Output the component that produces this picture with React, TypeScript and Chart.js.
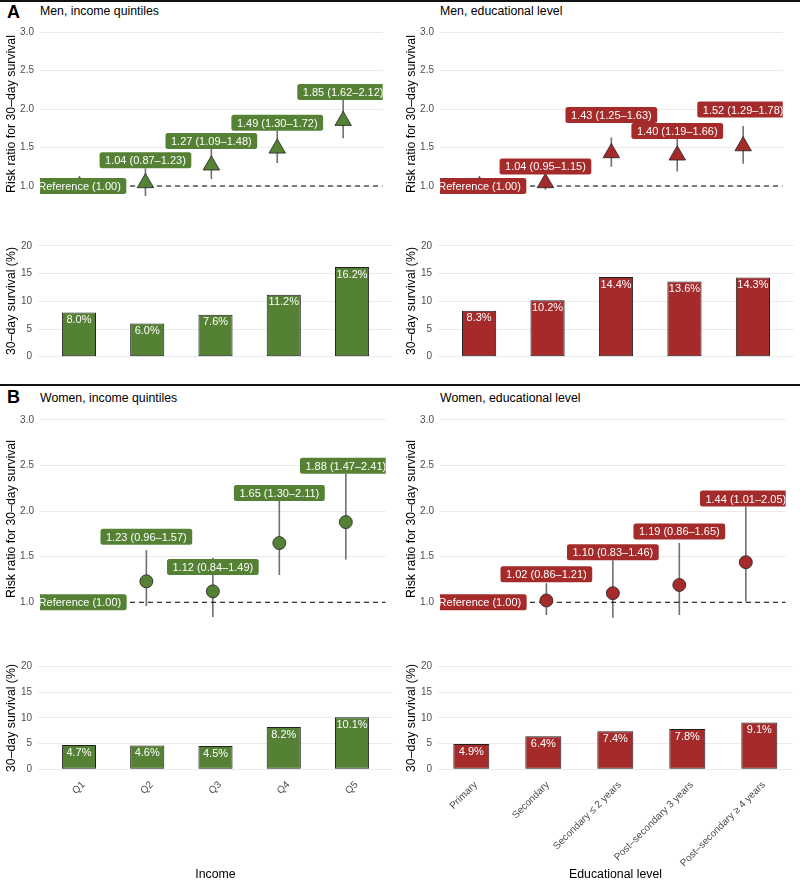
import React, { useEffect, useRef } from "react";
import { Chart, registerables } from "chart.js";

Chart.register(...registerables);

const FONT = "'Liberation Sans', Arial, Helvetica, sans-serif";
const GREEN = "#558134";
const RED = "#a52a2a";

// ---------- data ----------
const incomeCategories = ["Q1", "Q2", "Q3", "Q4", "Q5"];
const educationCategories = [
  "Primary",
  "Secondary",
  "Secondary ≤ 2 years",
  "Post–secondary 3 years",
  "Post–secondary ≥ 4 years",
];

const menIncomeRR = [1.0, 1.04, 1.27, 1.49, 1.85];
const menIncomeLow = [1.0, 0.87, 1.09, 1.3, 1.62];
const menIncomeHigh = [1.0, 1.23, 1.48, 1.72, 2.12];
const menIncomeLabelAt = [1.0, 1.23, 1.48, 1.72, 2.12];
const menIncomeSurvival = [8.0, 6.0, 7.6, 11.2, 16.2];

const menEduRR = [1.0, 1.04, 1.43, 1.4, 1.52];
const menEduLow = [1.0, 0.95, 1.25, 1.19, 1.29];
const menEduHigh = [1.0, 1.15, 1.63, 1.66, 1.78];
const menEduLabelAt = [1.0, 1.15, 1.82, 1.61, 1.89];
const menEduSurvival = [8.3, 10.2, 14.4, 13.6, 14.3];

const womenIncomeRR = [1.0, 1.23, 1.12, 1.65, 1.88];
const womenIncomeLow = [1.0, 0.96, 0.84, 1.3, 1.47];
const womenIncomeHigh = [1.0, 1.57, 1.49, 2.11, 2.41];
const womenIncomeLabelAt = [1.0, 1.63, 1.3, 2.11, 2.41];
const womenIncomeSurvival = [4.7, 4.6, 4.5, 8.2, 10.1];

const womenEduRR = [1.0, 1.02, 1.1, 1.19, 1.44];
const womenEduLow = [1.0, 0.86, 0.83, 0.86, 1.01];
const womenEduHigh = [1.0, 1.21, 1.46, 1.65, 2.05];
const womenEduLabelAt = [1.0, 1.22, 1.46, 1.69, 2.05];
const womenEduSurvival = [4.9, 6.4, 7.4, 7.8, 9.1];

const referenceLabel = "Reference (1.00)";
const rrAxisTitle = "Risk ratio for 30–day survival";
const barAxisTitle = "30–day survival (%)";

// ---------- layout ----------
type Geo = {
  left: number; top: number; width: number; height: number;
  axisW: number; padTop: number; padBottom: number; xAxisH?: number;
  xMin: number; xMax: number; yMin: number; yMax: number;
};

const rrA_L: Geo = { left: 0, top: 12, width: 393, height: 204, axisW: 40, padTop: 12, padBottom: 12, xMin: 0.4, xMax: 5.6, yMin: 0.7658, yMax: 3.108 };
const rrA_R: Geo = { ...rrA_L, left: 400 };
const barA_L: Geo = { left: 0, top: 228, width: 393, height: 146, axisW: 38, padTop: 12, padBottom: 12, xMin: 0.4, xMax: 5.6, yMin: -0.958, yMax: 21.084 };
const barA_R: Geo = { ...barA_L, left: 400, width: 394 };
const rrB_L: Geo = { left: 0, top: 398, width: 393, height: 242, axisW: 40, padTop: 12, padBottom: 12, xMin: 0.4, xMax: 5.6, yMin: 0.718, yMax: 3.1097 };
const rrB_R: Geo = { ...rrB_L, left: 400 };
const barB_L: Geo = { left: 0, top: 649, width: 393, height: 233, axisW: 38, padTop: 12, padBottom: 0, xAxisH: 107, xMin: 0.4, xMax: 5.6, yMin: -1.127, yMax: 21.03 };
const barB_R: Geo = { ...barB_L, left: 400, xMin: 0.5375, xMax: 5.468 };

const f2 = (v: number) => v.toFixed(2);

function yScale(g: Geo, step: number, title: string, fmt: (v: number) => string) {
  return {
    type: "linear",
    position: "left",
    min: g.yMin,
    max: g.yMax,
    grid: { color: "#ebebeb", lineWidth: 1, drawTicks: false },
    border: { display: false },
    ticks: {
      stepSize: step,
      includeBounds: false,
      padding: 6,
      color: "#4d4d4d",
      font: { family: FONT, size: 10 },
      callback: (v: any) => fmt(Number(v)),
    },
    title: {
      display: true,
      text: title,
      color: "#000",
      font: { family: FONT, size: 12.3 },
      padding: { top: 4, bottom: 4 },
    },
    afterFit: (ax: any) => {
      ax.width = g.axisW;
    },
  };
}

function xScale(g: Geo, cats: string[] | null, title: string | null) {
  const show = !!cats;
  return {
    type: "linear",
    position: "bottom",
    offset: false,
    min: g.xMin,
    max: g.xMax,
    display: show,
    grid: { display: false, drawTicks: false, offset: false },
    border: { display: false },
    ticks: {
      stepSize: 1,
      includeBounds: false,
      autoSkip: false,
      minRotation: 45,
      maxRotation: 45,
      padding: 4,
      labelOffset: 4.5,
      color: "#4d4d4d",
      font: { family: FONT, size: 10 },
      callback: (v: any) => {
        const i = Math.round(Number(v)) - 1;
        return cats && Math.abs(Number(v) - (i + 1)) < 1e-6 ? cats[i] : "";
      },
    },
    title: {
      display: !!title,
      text: title || "",
      color: "#000",
      font: { family: FONT, size: 12.3 },
      padding: { top: 0, bottom: 0 },
    },
    afterFit: (ax: any) => {
      if (g.xAxisH !== undefined) ax.height = g.xAxisH;
    },
  };
}

type RRSpec = {
  geo: Geo; rr: number[]; low: number[]; high: number[]; labelAt: number[];
  color: string; pointStyle: "triangle" | "circle"; radius: number;
};

function makeRR(s: RRSpec) {
  const extras = {
    id: "rrExtras",
    beforeDatasetsDraw(chart: any) {
      const { ctx, chartArea: a, scales } = chart;
      const x = scales.x, y = scales.y;
      ctx.save();
      ctx.beginPath();
      ctx.rect(a.left, a.top, a.right - a.left, a.bottom - a.top);
      ctx.clip();
      ctx.strokeStyle = "#707070";
      ctx.lineWidth = 1.6;
      s.rr.forEach((_, i) => {
        if (s.low[i] === s.high[i]) return;
        const px = x.getPixelForValue(i + 1);
        ctx.beginPath();
        ctx.moveTo(px, y.getPixelForValue(s.low[i]));
        ctx.lineTo(px, y.getPixelForValue(s.high[i]));
        ctx.stroke();
      });
      ctx.restore();
    },
    afterDatasetsDraw(chart: any) {
      const { ctx, chartArea: a, scales } = chart;
      const x = scales.x, y = scales.y;
      ctx.save();
      ctx.beginPath();
      ctx.rect(a.left, a.top, a.right - a.left, a.bottom - a.top);
      ctx.clip();
      ctx.font = `11px ${FONT}`;
      ctx.textAlign = "center";
      ctx.textBaseline = "alphabetic";
      const h = 16;
      s.rr.forEach((v, i) => {
        const text = i === 0 ? referenceLabel : `${f2(v)} (${f2(s.low[i])}–${f2(s.high[i])})`;
        const w = ctx.measureText(text).width + 11;
        const cx = x.getPixelForValue(i + 1);
        const cy = i === 0 ? y.getPixelForValue(s.labelAt[i]) : y.getPixelForValue(s.labelAt[i]) - h / 2;
        ctx.fillStyle = s.color;
        ctx.beginPath();
        (ctx as any).roundRect(cx - w / 2, cy - h / 2, w, h, 2.5);
        ctx.fill();
        ctx.fillStyle = "#ffffff";
        ctx.fillText(text, cx, cy + 4);
      });
      ctx.restore();
    },
  };
  const g = s.geo;
  return {
    type: "line",
    data: {
      datasets: [
        {
          data: s.rr.map((v, i) => ({ x: i + 1, y: v })),
          showLine: false,
          pointStyle: s.pointStyle,
          pointRadius: s.radius,
          pointBackgroundColor: s.color,
          pointBorderColor: "#222222",
          pointBorderWidth: 0.8,
          order: 0,
        },
        {
          data: [{ x: g.xMin, y: 1 }, { x: g.xMax, y: 1 }],
          borderColor: "#000000",
          borderWidth: 1.1,
          borderDash: [5, 4],
          pointRadius: 0,
          fill: false,
          order: 3,
        },
      ],
    },
    options: {
      responsive: false,
      maintainAspectRatio: false,
      animation: false,
      events: [],
      layout: { padding: { top: g.padTop, bottom: g.padBottom, left: 0, right: 0 } },
      plugins: { legend: { display: false }, tooltip: { enabled: false } },
      scales: {
        x: xScale(g, null, null),
        y: yScale(g, 0.5, rrAxisTitle, (v) => v.toFixed(1)),
      },
    },
    plugins: [extras],
  };
}

type BarSpec = { geo: Geo; values: number[]; color: string; cats: string[] | null; xTitle: string | null };

function makeBar(s: BarSpec) {
  const labels = {
    id: "barLabels",
    afterDatasetsDraw(chart: any) {
      const { ctx } = chart;
      const meta = chart.getDatasetMeta(0);
      ctx.save();
      ctx.font = `11px ${FONT}`;
      ctx.textAlign = "center";
      ctx.textBaseline = "alphabetic";
      ctx.fillStyle = "#ffffff";
      meta.data.forEach((bar: any, i: number) => {
        ctx.fillText(`${s.values[i].toFixed(1)}%`, bar.x, bar.y + 10.6);
      });
      ctx.restore();
    },
  };
  const g = s.geo;
  return {
    type: "bar",
    data: {
      datasets: [
        {
          data: s.values.map((v, i) => ({ x: i + 1, y: v })),
          backgroundColor: s.color,
          borderColor: "#1f1f1f",
          borderWidth: 1,
          borderSkipped: false,
          barPercentage: 0.5,
          categoryPercentage: 1,
        },
      ],
    },
    options: {
      responsive: false,
      maintainAspectRatio: false,
      animation: false,
      events: [],
      layout: { padding: { top: g.padTop, bottom: g.padBottom, left: 0, right: 0 } },
      plugins: { legend: { display: false }, tooltip: { enabled: false } },
      scales: {
        x: xScale(g, s.cats, s.xTitle),
        y: yScale(g, 5, barAxisTitle, (v) => String(Math.round(v))),
      },
    },
    plugins: [labels],
  };
}

function ChartBox({ geo, make }: { geo: Geo; make: () => any }) {
  const ref = useRef<HTMLCanvasElement>(null);
  useEffect(() => {
    const chart = new Chart(ref.current as HTMLCanvasElement, make());
    return () => chart.destroy();
  }, []);
  return (
    <canvas
      ref={ref}
      width={geo.width}
      height={geo.height}
      style={{ position: "absolute", left: geo.left, top: geo.top, width: geo.width, height: geo.height }}
    />
  );
}

function Text({ x, baseline, size, bold, children }: { x: number; baseline: number; size: number; bold?: boolean; children: any }) {
  return (
    <div
      style={{
        position: "absolute",
        left: x,
        top: baseline - 0.8465 * size,
        fontSize: size,
        lineHeight: 1,
        fontWeight: bold ? 700 : 400,
        color: "#000",
        whiteSpace: "nowrap",
        fontFamily: FONT,
      }}
    >
      {children}
    </div>
  );
}

export default function App() {
  return (
    <div
      style={{
        position: "absolute",
        left: 0,
        top: 0,
        width: 800,
        height: 880,
        overflow: "hidden",
        background: "#ffffff",
        fontFamily: FONT,
      }}
    >
      <div style={{ position: "absolute", left: 0, top: 0, width: 800, height: 1.5, background: "#111" }} />
      <div style={{ position: "absolute", left: 0, top: 384, width: 800, height: 1.7, background: "#111" }} />

      <Text x={7} baseline={18.5} size={18} bold>A</Text>
      <Text x={7} baseline={403.5} size={18} bold>B</Text>
      <Text x={40} baseline={15.8} size={12.3}>Men, income quintiles</Text>
      <Text x={440} baseline={15.8} size={12.3}>Men, educational level</Text>
      <Text x={40} baseline={402} size={12.3}>Women, income quintiles</Text>
      <Text x={440} baseline={402} size={12.3}>Women, educational level</Text>

      <ChartBox geo={rrA_L} make={() => makeRR({ geo: rrA_L, rr: menIncomeRR, low: menIncomeLow, high: menIncomeHigh, labelAt: menIncomeLabelAt, color: GREEN, pointStyle: "triangle", radius: 9.5 })} />
      <ChartBox geo={rrA_R} make={() => makeRR({ geo: rrA_R, rr: menEduRR, low: menEduLow, high: menEduHigh, labelAt: menEduLabelAt, color: RED, pointStyle: "triangle", radius: 9.5 })} />
      <ChartBox geo={barA_L} make={() => makeBar({ geo: barA_L, values: menIncomeSurvival, color: GREEN, cats: null, xTitle: null })} />
      <ChartBox geo={barA_R} make={() => makeBar({ geo: barA_R, values: menEduSurvival, color: RED, cats: null, xTitle: null })} />

      <ChartBox geo={rrB_L} make={() => makeRR({ geo: rrB_L, rr: womenIncomeRR, low: womenIncomeLow, high: womenIncomeHigh, labelAt: womenIncomeLabelAt, color: GREEN, pointStyle: "circle", radius: 6.5 })} />
      <ChartBox geo={rrB_R} make={() => makeRR({ geo: rrB_R, rr: womenEduRR, low: womenEduLow, high: womenEduHigh, labelAt: womenEduLabelAt, color: RED, pointStyle: "circle", radius: 6.5 })} />
      <ChartBox geo={barB_L} make={() => makeBar({ geo: barB_L, values: womenIncomeSurvival, color: GREEN, cats: incomeCategories, xTitle: "Income" })} />
      <ChartBox geo={barB_R} make={() => makeBar({ geo: barB_R, values: womenEduSurvival, color: RED, cats: educationCategories, xTitle: "Educational level" })} />
    </div>
  );
}
